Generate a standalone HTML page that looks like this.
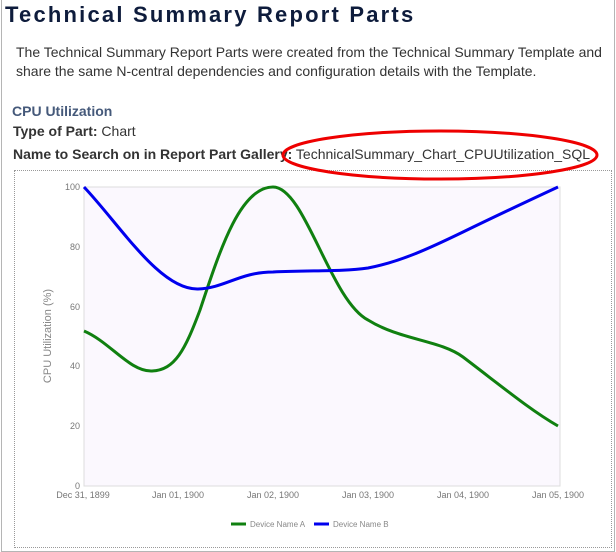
<!DOCTYPE html>
<html><head><style>
body{margin:0;width:616px;height:552px;background:#fff;position:relative;overflow:hidden;font-family:"Liberation Sans",sans-serif}
.frame{position:absolute;left:1px;top:-1px;width:612px;height:551px;border:1px solid #b5b5b5}
.t{position:absolute;white-space:nowrap}
</style></head><body>
<div class="frame"></div>
<div class="t" style="left:5px;top:2px;font-size:22px;font-weight:bold;letter-spacing:2.2px;color:#0e1c3c">Technical Summary Report Parts</div>
<div class="t" style="left:16px;top:43px;font-size:14px;line-height:19px;color:#333">The Technical Summary Report Parts were created from the Technical Summary Template and<br>share the same N-central dependencies and configuration details with the Template.</div>
<div class="t" style="left:12px;top:103px;font-size:14px;font-weight:bold;color:#45597a">CPU Utilization</div>
<div class="t" style="left:13px;top:123px;font-size:14px;color:#333"><b>Type of Part:</b> Chart</div>
<div class="t" style="left:13px;top:146px;font-size:14px;color:#333"><b>Name to Search on in Report Part Gallery:</b> TechnicalSummary_Chart_CPUUtilization_SQL</div>
<div style="position:absolute;left:14px;top:170px;width:596px;height:376px;border:1px dotted #999"></div>
<svg width="616" height="552" style="position:absolute;left:0;top:0" font-family="Liberation Sans, sans-serif">
<rect x="84" y="187" width="476" height="299" fill="#fbf8fe" stroke="#ddd"/>
<g font-size="9" fill="#777" text-anchor="end">
<text x="80" y="190">100</text><text x="80" y="250">80</text><text x="80" y="310">60</text><text x="80" y="369">40</text><text x="80" y="429">20</text><text x="80" y="489">0</text>
</g>
<g font-size="9" fill="#777" text-anchor="middle">
<text x="83" y="498">Dec 31, 1899</text><text x="178" y="498">Jan 01, 1900</text><text x="273" y="498">Jan 02, 1900</text><text x="368" y="498">Jan 03, 1900</text><text x="463" y="498">Jan 04, 1900</text><text x="558" y="498">Jan 05, 1900</text>
</g>
<text transform="translate(51,336) rotate(-90)" font-size="11" fill="#888" text-anchor="middle">CPU Utilization (%)</text>
<path d="M84,331 C110,342 130,372 152,371 C175,370 185,350 200,310 C220,250 240,187 273,187 C305,187 330,300 368,320 C400,340 440,340 463,357 C500,385 530,410 558,426" fill="none" stroke="#108010" stroke-width="3"/>
<path d="M84,187 C120,225 160,290 198,289 C225,288 240,272 273,272 C310,270 340,272 368,268 C400,262 430,248 463,232 C500,214 530,200 558,187" fill="none" stroke="#0000ee" stroke-width="3"/>
<line x1="231" y1="524" x2="246" y2="524" stroke="#108010" stroke-width="3"/>
<text x="250" y="527" font-size="8" fill="#888">Device Name A</text>
<line x1="314" y1="524" x2="329" y2="524" stroke="#0000ee" stroke-width="3"/>
<text x="333" y="527" font-size="8" fill="#888">Device Name B</text>
<ellipse cx="440" cy="155" rx="157" ry="24" fill="none" stroke="#e00" stroke-width="3"/>
</svg>
</body></html>
